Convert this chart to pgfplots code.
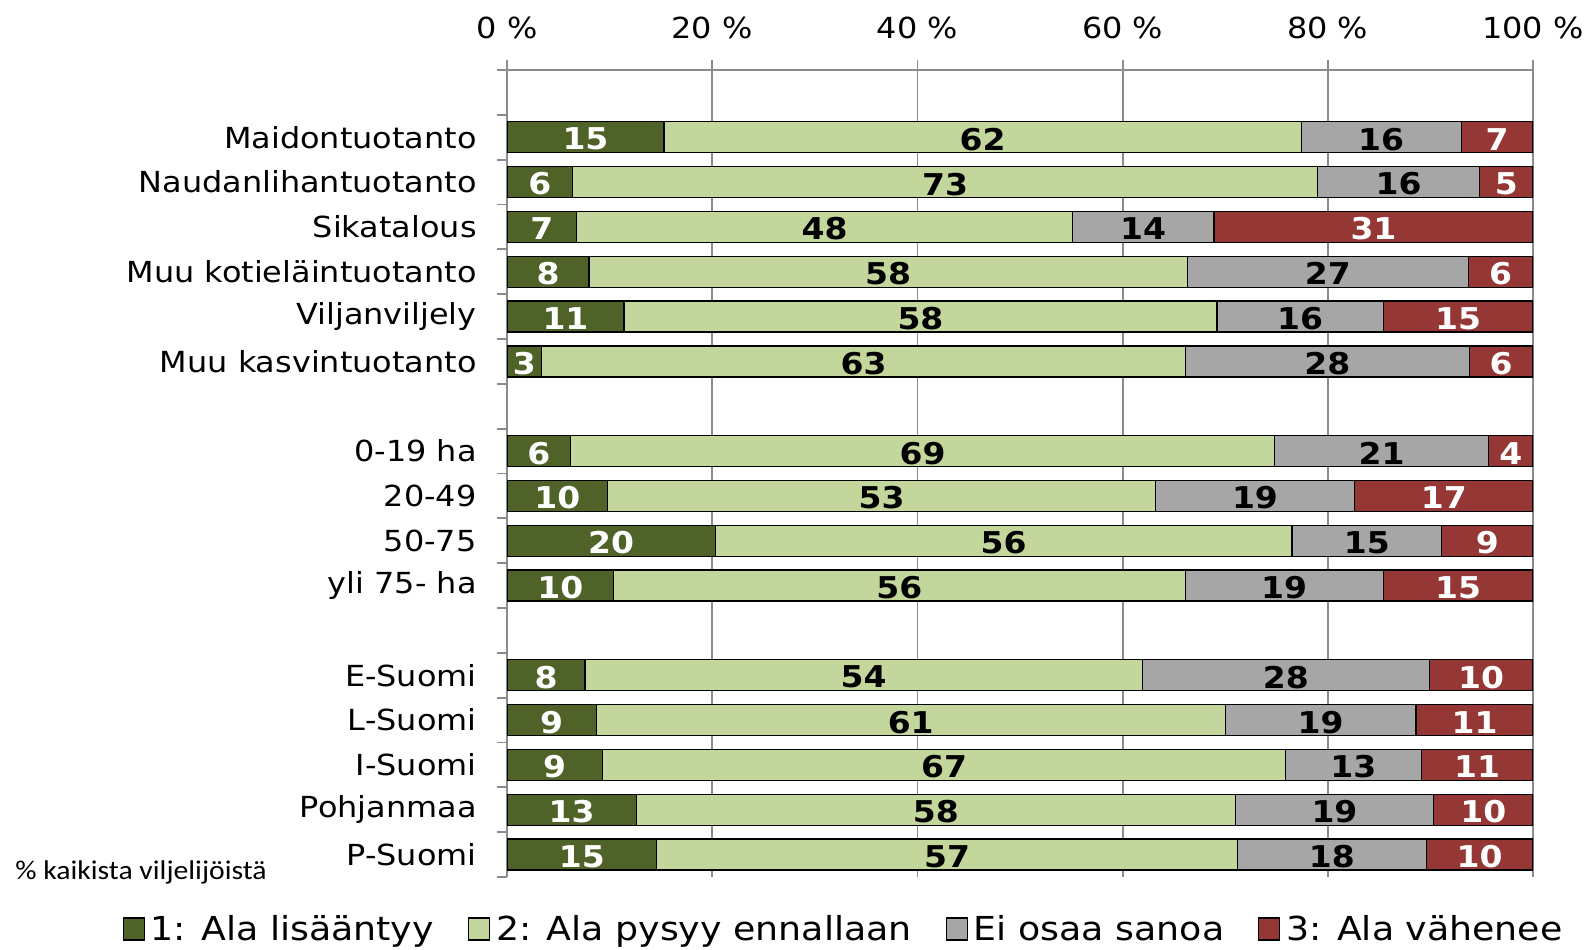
\documentclass[border=0pt]{standalone}
\usepackage{pgfplots}
\pgfplotsset{compat=1.18}
\usepackage{pgfplotstable}
\usepackage{fontspec}
\setmainfont[FakeStretch=1.1]{DejaVu Sans}
\newfontfamily\notefont[FakeStretch=1.1]{Carlito}
\definecolor{cA}{HTML}{4F6228}
\definecolor{cB}{HTML}{C3D69B}
\definecolor{cC}{HTML}{A6A6A6}
\definecolor{cD}{HTML}{953735}
\definecolor{gridc}{HTML}{8C8C8C}

% y: position (top row = 17); a: Ala lisääntyy, b: pysyy ennallaan, c: Ei osaa sanoa, d: Ala vähenee
\pgfplotstableread{
y a b c d
17 15.3 62.1 15.6 7.0
16 6.4 72.6 15.8 5.2
15 6.8 48.3 13.8 31.1
14 8.0 58.3 27.4 6.3
13 11.4 57.8 16.2 14.6
12 3.4 62.7 27.7 6.2
10 6.2 68.6 20.9 4.3
9 9.8 53.4 19.4 17.4
8 20.3 56.2 14.6 8.9
7 10.4 55.7 19.3 14.6
5 7.6 54.3 28.0 10.1
4 8.7 61.3 18.6 11.4
3 9.3 66.6 13.2 10.9
2 12.6 58.4 19.3 9.7
1 14.6 56.6 18.4 10.4
}\data

\begin{document}
\begin{tikzpicture}
\useasboundingbox (0,0) rectangle (795pt,-474.5pt);
\begin{axis}[
  at={(253.5pt,-35pt)}, anchor=north west,
  scale only axis, width=513pt, height=403.5pt,
  xbar stacked, bar width=15.5pt,
  xmin=0, xmax=100, ymin=0.5, ymax=18.5,
  axis x line*=top, axis y line*=left,
  axis line style={gridc, line width=0.9pt, -},
  xtick={0,20,40,60,80,100},
  xticklabels={0 \%,20 \%,40 \%,60 \%,80 \%,100 \%},
  xmajorgrids, major grid style={gridc, line width=0.9pt},
  ytick={1,2,3,4,5,7,8,9,10,12,13,14,15,16,17},
  yticklabels={P-Suomi,Pohjanmaa,I-Suomi,L-Suomi,E-Suomi,yli 75- ha,50-75,20-49,0-19 ha,Muu kasvintuotanto,Viljanviljely,Muu kotieläintuotanto,Sikatalous,Naudanlihantuotanto,Maidontuotanto},
  minor ytick={0.5,1.5,...,18.5},
  tick align=outside,
  major tick length=5pt, minor tick length=5pt,
  tick style={gridc, line width=0.9pt},
  major y tick style={draw=none},
  tick label style={font=\fontsize{14.5}{14.5}\selectfont, text=black},
  xticklabel style={anchor=center, inner sep=0pt, yshift=16pt},
  yticklabel style={anchor=east, inner sep=0pt, xshift=-10pt},
  legend style={at={(axis description cs:0.33,-0.0645)}, anchor=center, draw=none, fill=none,
    legend columns=4, font=\fontsize{16.5}{16.5}\selectfont,
    nodes={inner sep=3pt},
    /tikz/every even column/.append style={column sep=14pt}},
  legend image code/.code={\draw[#1, line width=0.6pt] (0pt,-5.5pt) rectangle (10.5pt,5.5pt);},
  every node near coord/.append style={font=\bfseries\fontsize{15}{15}\selectfont, anchor=center, inner sep=0pt, yshift=-1pt},
]
\addplot[fill=cA, draw=black, line width=0.6pt,
  visualization depends on={\thisrow{a} \as \myv},
  nodes near coords={\pgfmathprintnumber[fixed,precision=0,assume math mode=true]{\myv}},
  every node near coord/.append style={text=white}]
  table[x=a,y=y]{\data};
\addplot[fill=cB, draw=black, line width=0.6pt,
  visualization depends on={\thisrow{b} \as \myv},
  nodes near coords={\pgfmathprintnumber[fixed,precision=0,assume math mode=true]{\myv}},
  every node near coord/.append style={text=black}]
  table[x=b,y=y]{\data};
\addplot[fill=cC, draw=black, line width=0.6pt,
  visualization depends on={\thisrow{c} \as \myv},
  nodes near coords={\pgfmathprintnumber[fixed,precision=0,assume math mode=true]{\myv}},
  every node near coord/.append style={text=black}]
  table[x=c,y=y]{\data};
\addplot[fill=cD, draw=black, line width=0.6pt,
  visualization depends on={\thisrow{d} \as \myv},
  nodes near coords={\pgfmathprintnumber[fixed,precision=0,assume math mode=true]{\myv}},
  every node near coord/.append style={text=white}]
  table[x=d,y=y]{\data};
\legend{1: Ala lisääntyy,2: Ala pysyy ennallaan,Ei osaa sanoa,3: Ala vähenee}
\end{axis}
\node[anchor=west, inner sep=0pt, font=\notefont\fontsize{13.5}{13.5}\selectfont] at (7.5pt,-436pt) {\% kaikista viljelijöistä};
\end{tikzpicture}
\end{document}
